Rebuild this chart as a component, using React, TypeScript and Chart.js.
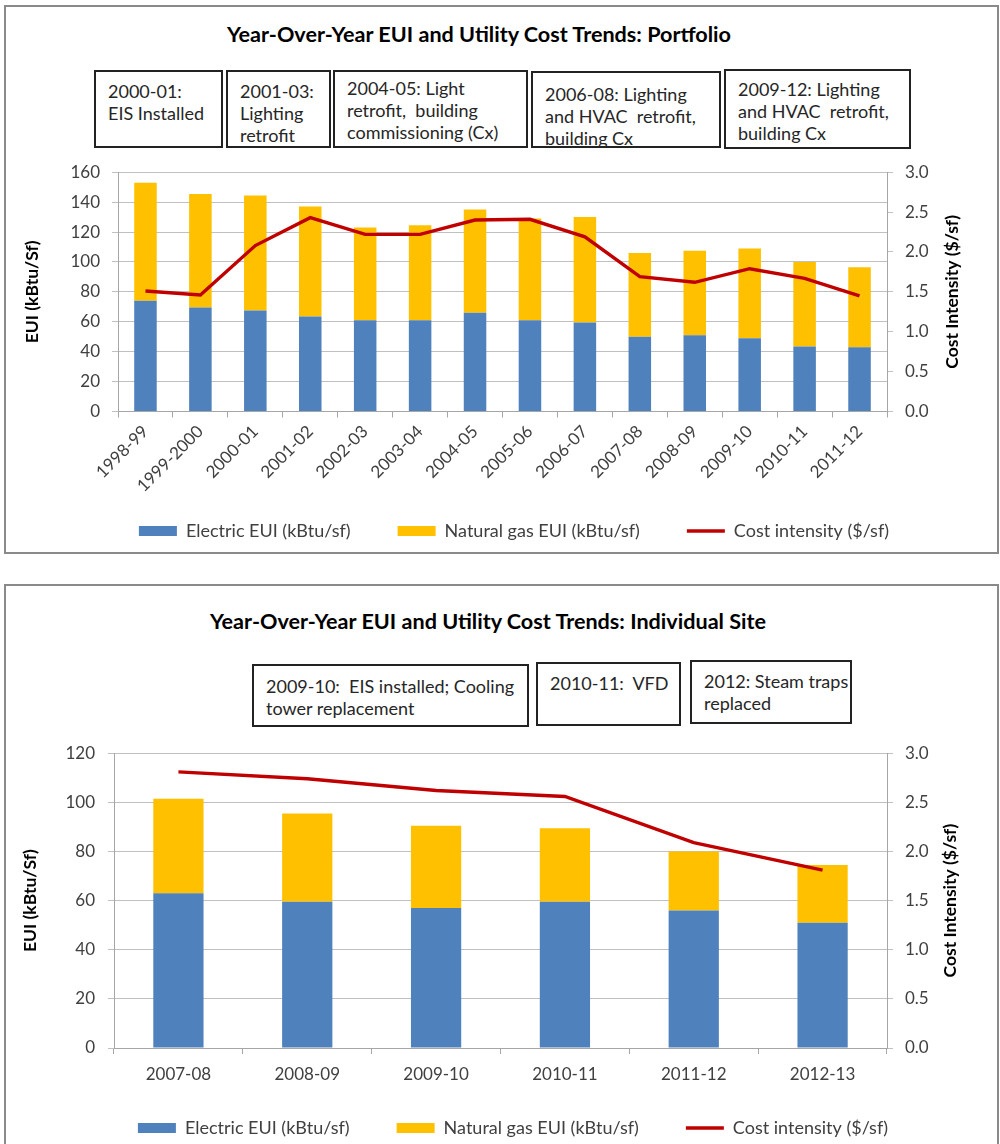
import React, { useEffect, useRef } from "react";
import { Chart, registerables } from "chart.js";

Chart.register(...registerables);

const FONT = "Lato, 'Open Sans', sans-serif";
const BLUE = "#4F81BD";
const GOLD = "#FFC000";
const RED = "#C00000";
const GRID = "#c0c0c0";
const AXIS = "#a6a6a6";
const TEXT = "#404040";

// ---------- Portfolio chart data ----------
const portfolioYears = [
  "1998-99", "1999-2000", "2000-01", "2001-02", "2002-03", "2003-04", "2004-05",
  "2005-06", "2006-07", "2007-08", "2008-09", "2009-10", "2010-11", "2011-12",
];
const portfolioElectric = [74, 69.5, 67.5, 63.5, 61, 61, 66, 61, 59.5, 50, 51, 49, 43.5, 43];
const portfolioGas = [79, 76, 77, 73.5, 62, 63.5, 69, 68, 70.5, 56, 56.5, 60, 56.5, 53.5];
const portfolioCost = [1.51, 1.46, 2.08, 2.43, 2.22, 2.22, 2.4, 2.41, 2.19, 1.69, 1.62, 1.79, 1.67, 1.45];

// ---------- Individual site chart data ----------
const siteYears = ["2007-08", "2008-09", "2009-10", "2010-11", "2011-12", "2012-13"];
const siteElectric = [63, 59.5, 57, 59.5, 56, 51];
const siteGas = [38.5, 36, 33.5, 30, 24, 23.5];
const siteCost = [2.81, 2.74, 2.62, 2.56, 2.09, 1.81];

// ---------- Tick / legend labels ----------
const leftAxisTitle = "EUI (kBtu/Sf)";
const rightAxisTitle = "Cost Intensity ($/sf)";
const seriesNames = ["Electric EUI (kBtu/sf)", "Natural gas EUI (kBtu/sf)", "Cost intensity ($/sf)"];

const portfolioTitle = "Year-Over-Year EUI and Utility Cost Trends: Portfolio";
const siteTitle = "Year-Over-Year EUI and Utility Cost Trends: Individual Site";

const portfolioNotes = [
  { text: "2000-01:\nEIS Installed", left: 94, top: 70, w: 129, h: 78, pt: 8 },
  { text: "2001-03:\nLighting\nretrofit", left: 226, top: 70, w: 105, h: 78, pt: 8 },
  { text: "2004-05: Light\nretrofit,  building\ncommissioning (Cx)", left: 333, top: 70, w: 195, h: 78, pt: 5 },
  { text: "2006-08: Lighting\nand HVAC  retrofit,\nbuilding Cx", left: 531, top: 71, w: 190, h: 77, pt: 10 },
  { text: "2009-12: Lighting\nand HVAC  retrofit,\nbuilding Cx", left: 724, top: 69, w: 187, h: 80, pt: 7 },
];
const siteNotes = [
  { text: "2009-10:  EIS installed; Cooling\ntower replacement", left: 252, top: 664, w: 277, h: 63, pt: 9 },
  { text: "2010-11:  VFD", left: 536, top: 662, w: 145, h: 64, pt: 8 },
  { text: "2012: Steam traps\nreplaced", left: 690, top: 660, w: 162, h: 64, pt: 8 },
];

const rightTitlePlugin = {
  id: "rightTitle",
  afterDraw(chart: any, _args: any, opts: any) {
    const scale = chart.scales.y1;
    if (!scale || !opts || !opts.text) return;
    const ctx = chart.ctx;
    ctx.save();
    ctx.font = `bold ${opts.size}px ${FONT}`;
    ctx.fillStyle = opts.color;
    ctx.textAlign = "center";
    ctx.textBaseline = "middle";
    ctx.translate(scale.right - opts.offset, (scale.top + scale.bottom) / 2);
    ctx.rotate(-Math.PI / 2);
    ctx.fillText(opts.text, 0, 0);
    ctx.restore();
  },
};

type Cfg = {
  labels: string[];
  electric: number[];
  gas: number[];
  cost: number[];
  yMax: number;
  padLeft: number;
  padTop: number;
  padBottom: number;
  leftW: number;
  rightW: number;
  xHeight: number;
  barPct: number;
  rotation: number;
  xPad: number;
  leftPad: number;
  rightOffset: number;
};

function buildConfig(p: Cfg): any {
  const tickFont = { family: FONT, size: 17 };
  return {
    type: "bar",
    data: {
      labels: p.labels,
      datasets: [
        {
          type: "bar",
          label: seriesNames[0],
          data: p.electric,
          backgroundColor: BLUE,
          yAxisID: "y",
          order: 1,
          barPercentage: p.barPct,
          categoryPercentage: 1,
          pointStyle: "rect",
        },
        {
          type: "bar",
          label: seriesNames[1],
          data: p.gas,
          backgroundColor: GOLD,
          yAxisID: "y",
          order: 2,
          barPercentage: p.barPct,
          categoryPercentage: 1,
          pointStyle: "rect",
        },
        {
          type: "line",
          label: seriesNames[2],
          data: p.cost,
          borderColor: RED,
          backgroundColor: RED,
          borderWidth: 3.4,
          pointRadius: 0,
          tension: 0,
          fill: false,
          yAxisID: "y1",
          order: 0,
          pointStyle: "line",
        },
      ],
    },
    plugins: [rightTitlePlugin],
    options: {
      responsive: false,
      animation: false,
      events: [],
      layout: { padding: { left: p.padLeft, right: 0, top: p.padTop, bottom: p.padBottom } },
      plugins: {
        tooltip: { enabled: false },
        legend: {
          position: "bottom",
          labels: {
            usePointStyle: true,
            pointStyleWidth: 38,
            boxHeight: 10,
            padding: 47,
            color: TEXT,
            font: { family: FONT, size: 18 },
            sort: (a: any, b: any) => a.datasetIndex - b.datasetIndex,
          },
        },
        rightTitle: { text: rightAxisTitle, size: 17.5, color: "#000", offset: p.rightOffset },
      },
      scales: {
        x: {
          stacked: true,
          offset: true,
          grid: { offset: true, drawOnChartArea: false, drawTicks: true, tickLength: 6, color: AXIS },
          border: { display: true, color: AXIS },
          ticks: {
            autoSkip: false,
            minRotation: p.rotation,
            maxRotation: p.rotation,
            padding: p.xPad,
            color: TEXT,
            font: tickFont,
          },
          afterFit: (s: any) => {
            s.height = p.xHeight;
            // let the tick labels overflow the (deliberately short) axis box
            s._computeLabelArea = () => undefined;
          },
        },
        y: {
          stacked: true,
          position: "left",
          min: 0,
          max: p.yMax,
          ticks: { stepSize: 20, padding: p.leftPad, color: TEXT, font: tickFont },
          grid: { color: GRID, tickLength: 6 },
          border: { display: true, color: AXIS },
          title: {
            display: true,
            text: leftAxisTitle,
            color: "#000",
            font: { family: FONT, size: 17.5, weight: "bold" },
            padding: { top: -6, bottom: 0 },
          },
          afterFit: (s: any) => {
            s.width = p.leftW;
          },
        },
        y1: {
          position: "right",
          min: 0,
          max: 3,
          ticks: {
            stepSize: 0.5,
            padding: 12,
            color: TEXT,
            font: tickFont,
            callback: (v: any) => Number(v).toFixed(1),
          },
          grid: { drawOnChartArea: false, tickLength: 6, color: GRID },
          border: { display: true, color: AXIS },
          afterFit: (s: any) => {
            s.width = p.rightW;
          },
        },
      },
    },
  };
}

function ComboChart({ cfg, top, height }: { cfg: Cfg; top: number; height: number }) {
  const ref = useRef<HTMLCanvasElement>(null);
  useEffect(() => {
    const chart = new Chart(ref.current as HTMLCanvasElement, buildConfig(cfg));
    return () => chart.destroy();
  }, []);
  return (
    <canvas
      ref={ref}
      width={1000}
      height={height}
      style={{ position: "absolute", left: 0, top, width: 1000, height }}
    />
  );
}

const portfolioCfg: Cfg = {
  labels: portfolioYears,
  electric: portfolioElectric,
  gas: portfolioGas,
  cost: portfolioCost,
  yMax: 160,
  padLeft: 28,
  padTop: 20.5,
  padBottom: 3,
  leftW: 90,
  rightW: 113,
  xHeight: 63.5,
  barPct: 0.41,
  rotation: 45,
  xPad: 4,
  leftPad: 12,
  rightOffset: 48,
};

const siteCfg: Cfg = {
  labels: siteYears,
  electric: siteElectric,
  gas: siteGas,
  cost: siteCost,
  yMax: 120,
  padLeft: 26,
  padTop: 16.7,
  padBottom: 3,
  leftW: 88,
  rightW: 113,
  xHeight: 24,
  barPct: 0.39,
  rotation: 0,
  xPad: 10,
  leftPad: 13,
  rightOffset: 50,
};

function Note({ n, lh }: { n: any; lh: number }) {
  return (
    <div
      style={{
        position: "absolute",
        left: n.left,
        top: n.top,
        width: n.w,
        height: n.h,
        boxSizing: "border-box",
        border: "2px solid #222",
        padding: `${n.pt}px 0 0 12px`,
        fontSize: 18,
        lineHeight: `${lh}px`,
        color: "#262626",
        whiteSpace: "pre",
        overflow: "visible",
        background: "#fff",
      }}
    >
      {n.text}
    </div>
  );
}

function Title({ text, cx, cy }: { text: string; cx: number; cy: number }) {
  return (
    <div
      style={{
        position: "absolute",
        left: cx - 400,
        top: cy - 14,
        width: 800,
        height: 28,
        lineHeight: "28px",
        textAlign: "center",
        fontWeight: "bold",
        fontSize: 21.6,
        color: "#000",
        whiteSpace: "nowrap",
      }}
    >
      {text}
    </div>
  );
}

export default function App() {
  const panel = (top: number, height: number): React.CSSProperties => ({
    position: "absolute",
    left: 4,
    top,
    width: 995,
    height,
    boxSizing: "border-box",
    border: "2px solid #8a8a8a",
    background: "#fff",
  });
  return (
    <div
      style={{
        position: "absolute",
        left: 0,
        top: 0,
        width: 1000,
        height: 1144,
        overflow: "hidden",
        background: "#fff",
        fontFamily: FONT,
      }}
    >
      <div style={panel(5, 549)} />
      <div style={panel(584, 700)} />
      <Title text={portfolioTitle} cx={479} cy={34} />
      <Title text={siteTitle} cx={488} cy={621} />
      {portfolioNotes.map((n, i) => (
        <Note key={"p" + i} n={n} lh={22} />
      ))}
      {siteNotes.map((n, i) => (
        <Note key={"s" + i} n={n} lh={22} />
      ))}
      <ComboChart cfg={portfolioCfg} top={150} height={403} />
      <ComboChart cfg={siteCfg} top={730} height={420} />
    </div>
  );
}
